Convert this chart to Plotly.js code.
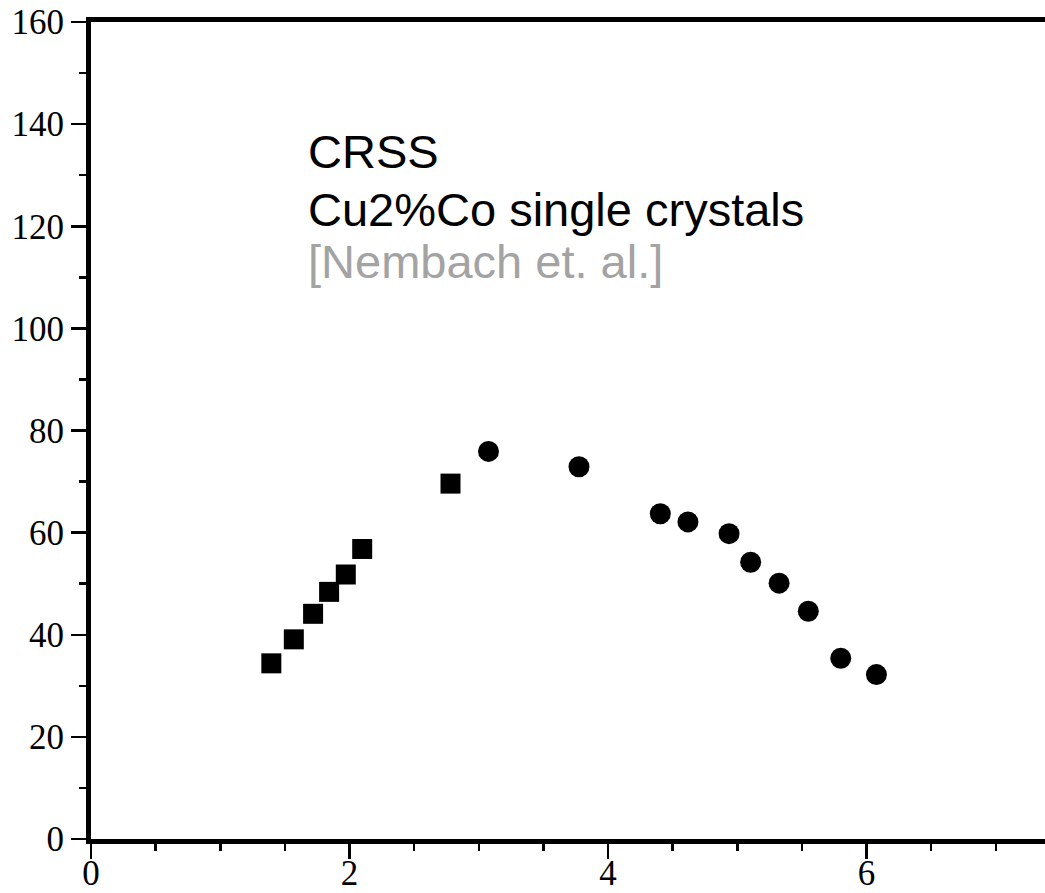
<!DOCTYPE html>
<html>
<head>
<meta charset="utf-8">
<script src="https://cdn.plot.ly/plotly-3.0.1.min.js"></script>
<style>html,body{margin:0;padding:0;background:#fff;}#chart{width:1045px;height:893px;}</style>
</head>
<body>
<div id="chart"></div>
<script>
// Squares series
const squareX = [1.395, 1.569, 1.718, 1.842, 1.971, 2.098, 2.781];
const squareY = [34.4, 39.1, 44.1, 48.4, 51.8, 56.8, 69.6];
// Circles series
const circleX = [3.075, 3.775, 4.404, 4.618, 4.936, 5.103, 5.323, 5.549, 5.800, 6.076];
const circleY = [75.9, 72.9, 63.7, 62.1, 59.8, 54.2, 50.1, 44.6, 35.4, 32.2];
// Text lines
const labelLines = ["CRSS", "Cu2%Co single crystals", "[Nembach et. al.]"];
const labelColors = ["#000000", "#000000", "#a3a3a3"];
const labelY = [134.6, 123.3, 113.1];

const traces = [
  {x: squareX, y: squareY, type: 'scatter', mode: 'markers',
   marker: {symbol: 'square', size: 20, color: '#000'}, hoverinfo: 'x+y'},
  {x: circleX, y: circleY, type: 'scatter', mode: 'markers',
   marker: {symbol: 'circle', size: 21, color: '#000'}, hoverinfo: 'x+y'}
];

const tickFont = {family: 'Liberation Serif, Times New Roman, serif', size: 35, color: '#000'};

const layout = {
  width: 1045, height: 893,
  margin: {l: 91, r: 0, t: 22, b: 54, pad: 0},
  paper_bgcolor: '#fff', plot_bgcolor: '#fff',
  showlegend: false,
  xaxis: {
    range: [0, 7.38], showgrid: false, zeroline: false,
    showline: true, linecolor: '#000', linewidth: 5, mirror: true,
    ticks: 'outside', ticklen: 15, tickwidth: 2.5, tickcolor: '#000',
    tick0: 0, dtick: 2, tickfont: tickFont, ticklabelstandoff: -16,
    minor: {dtick: 0.5, ticks: 'outside', ticklen: 7, tickwidth: 2.5, tickcolor: '#000', showgrid: false}
  },
  yaxis: {
    range: [0, 160], showgrid: false, zeroline: false,
    showline: true, linecolor: '#000', linewidth: 5, mirror: false,
    ticks: 'outside', ticklen: 15, tickwidth: 2.5, tickcolor: '#000',
    tick0: 0, dtick: 20, tickfont: tickFont,
    minor: {dtick: 10, ticks: 'outside', ticklen: 7, tickwidth: 2.5, tickcolor: '#000', showgrid: false}
  },
  annotations: labelLines.map((t, i) => ({
    x: 1.66, y: labelY[i], xref: 'x', yref: 'y', xanchor: 'left', yanchor: 'middle',
    text: t, showarrow: false,
    font: {family: 'Liberation Sans, Arial, sans-serif', size: 47, color: labelColors[i]}
  }))
};

Plotly.newPlot('chart', traces, layout, {displayModeBar: false, staticPlot: true});
</script>
</body>
</html>
